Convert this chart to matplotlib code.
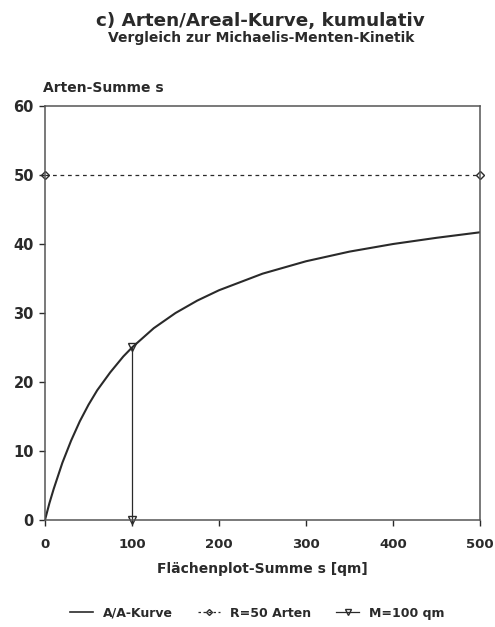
import numpy as np
import matplotlib.pyplot as plt
from matplotlib.lines import Line2D

# cumulative species/area curve
flaeche = [0, 5, 10, 20, 30, 40, 50, 60, 75, 90, 100, 125, 150, 175, 200, 250, 300, 350, 400, 450, 500]
arten = [0, 2.4, 4.5, 8.3, 11.5, 14.3, 16.7, 18.8, 21.4, 23.7, 25.0, 27.8, 30.0, 31.8, 33.3, 35.7, 37.5, 38.9, 40.0, 40.9, 41.7]

r_x = [0, 500]
r_y = [50, 50]
m_x = [100, 100]
m_y = [0, 25]

ink = '#2a2a2a'
plt.rcParams['font.family'] = ['DejaVu Sans']
plt.rcParams['font.weight'] = 'bold'

fig = plt.figure(figsize=(4.95, 6.27), dpi=100)
ax = fig.add_axes([0.0909, 0.1707, 0.879, 0.6602])

ax.plot(flaeche, arten, color=ink, lw=1.5)
ax.plot(r_x, r_y, color=ink, lw=0.9, ls=(0, (3, 3)), marker='D', ms=4,
        mfc='none', mec=ink, mew=1.0, clip_on=False)
ax.plot(m_x, m_y, color=ink, lw=0.9, marker='v', ms=6,
        mfc='none', mec=ink, mew=1.0, clip_on=False)

ax.set_xlim(0, 500)
ax.set_ylim(0, 60)
ax.set_xticks([0, 100, 200, 300, 400, 500])
ax.set_yticks([0, 10, 20, 30, 40, 50, 60])
ax.tick_params(direction='out', length=4, width=1, colors=ink)
ax.tick_params(axis='x', pad=9, labelsize=9.5)
ax.tick_params(axis='y', pad=4, labelsize=10.5)
for lbl in ax.get_xticklabels() + ax.get_yticklabels():
    lbl.set_fontweight('bold')
for sp in ax.spines.values():
    sp.set_color('#555555')
    sp.set_linewidth(1.1)

fig.text(0.527, 0.966, 'c) Arten/Areal-Kurve, kumulativ', ha='center', va='center',
         fontsize=13.2, fontweight='bold', color=ink)
fig.text(0.528, 0.939, 'Vergleich zur Michaelis-Menten-Kinetik', ha='center', va='center',
         fontsize=10, fontweight='bold', color=ink)
fig.text(0.087, 0.860, 'Arten-Summe s', ha='left', va='center', fontsize=10,
         fontweight='bold', color=ink)
ax.set_xlabel('Flächenplot-Summe s [qm]', fontsize=10, fontweight='bold', color=ink, labelpad=8)

handles = [
    Line2D([], [], color=ink, lw=1.2),
    Line2D([], [], color=ink, lw=0.9, ls=(0, (2, 2)), marker='D', ms=3, mfc='none', mec=ink),
    Line2D([], [], color=ink, lw=0.9, marker='v', ms=5, mfc='none', mec=ink),
]
fig.legend(handles, ['A/A-Kurve', 'R=50 Arten', 'M=100 qm'], loc='center',
           bbox_to_anchor=(0.52, 0.022), ncol=3, frameon=False,
           prop={'size': 9, 'weight': 'bold'},
           handlelength=1.8, columnspacing=2.0, handletextpad=0.8, labelcolor=ink)

fig.savefig('out.png', dpi=100)
